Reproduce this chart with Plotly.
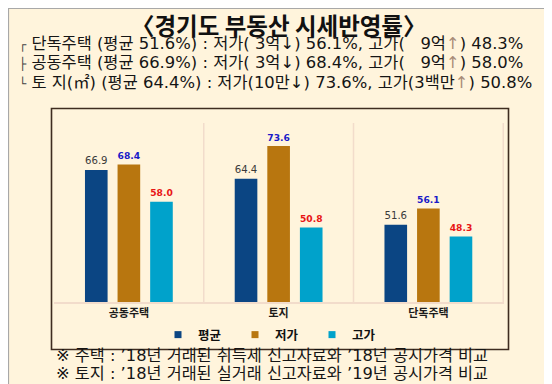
import plotly.graph_objects as go

categories = ["공동주택", "토지", "단독주택"]
series_names = ["평균", "저가", "고가"]
avg_values = [66.9, 64.4, 51.6]
low_values = [68.4, 73.6, 56.1]
high_values = [58.0, 50.8, 48.3]

NB = "\u00a0"
UP = "<span style='color:#A88C78'>↑</span>"
def corner(ch):
    return f"<span style='font-size:12px;color:#444444'>{ch}</span>"
title_text = "〈경기도 부동산 시세반영률〉"
summary_lines = [
    f"{corner('┌')} 단독주택 (평균 51.6%) : 저가({NB}3억↓) 56.1%, 고가({NB}{NB}{NB}9억{UP}) 48.3%",
    f"{corner('├')} 공동주택 (평균 66.9%) : 저가({NB}3억↓) 68.4%, 고가({NB}{NB}{NB}9억{UP}) 58.0%",
    f"{corner('└')} 토 지(㎡) (평균 64.4%) : 저가(10만↓) 73.6%, 고가(3백만{UP}) 50.8%",
]
footnotes = [
    "※ 주택 : ’18년 거래된 취득세 신고자료와 ’18년 공시가격 비교",
    "※ 토지 : ’18년 거래된 실거래 신고자료와 ’19년 공시가격 비교",
]

W, H = 552, 384
def px(x):
    return x / W
def py(y):
    return 1 - y / H

KR = "Noto Sans CJK KR, Noto Sans, sans-serif"
MIX = "DejaVu Sans, Noto Sans CJK KR, sans-serif"
BG = "#FFF4DC"

bar_colors = ["#0B4583", "#B8760F", "#00A2CB"]
label_colors = ["#3A3A3A", "#1A1AC8", "#E81515"]
label_bold = [False, True, True]
vals = [avg_values, low_values, high_values]

fig = go.Figure()
for name, v, c, lc, b in zip(series_names, vals, bar_colors, label_colors, label_bold):
    fig.add_trace(go.Bar(
        x=categories, y=v, name=name, showlegend=False,
        marker=dict(color=c, line=dict(width=0)),
        text=[f"<b>{t:.1f}</b>" if b else f"{t:.1f}" for t in v],
        textposition="outside", cliponaxis=False,
        textfont=dict(family="DejaVu Sans", size=11.5, color=lc),
    ))
# legend entries (small square keys like the reference)
for name, c in zip(series_names, bar_colors):
    fig.add_trace(go.Scatter(
        x=[categories[0]], y=[None], name=name, mode="markers",
        marker=dict(symbol="square", size=7, color=c), showlegend=True,
    ))

shapes = [
    dict(type="rect", xref="paper", yref="paper", x0=px(0.5), x1=px(549.5), y0=py(383.5), y1=py(0.5),
         fillcolor=BG, line=dict(color="#A8A8A8", width=1.2), layer="below"),
    dict(type="rect", xref="paper", yref="paper", x0=px(43.5), x1=px(500.5), y0=py(341.5), y1=py(100.5),
         fillcolor="rgba(0,0,0,0)", line=dict(color="#3E2C20", width=1.6), layer="above"),
]
for xv in [0.5, 1.5, 2.5]:
    shapes.append(dict(type="line", xref="x", yref="y domain", x0=xv, x1=xv, y0=0, y1=1,
                       line=dict(color="#F2DCCB", width=1.5), layer="below"))

annotations = [
    dict(text=f"<b>{title_text}</b>", x=px(271), y=py(17), xref="paper", yref="paper",
         showarrow=False, xanchor="center", yanchor="middle",
         font=dict(family=KR, size=23.5, color="#111111")),
]
for i, line in enumerate(summary_lines):
    annotations.append(dict(text=line, x=px(9), y=py(35 + i * 19.5), xref="paper", yref="paper",
                            showarrow=False, xanchor="left", yanchor="middle",
                            font=dict(family=MIX, size=16.4, color="#151515")))
for i, line in enumerate(footnotes):
    annotations.append(dict(text=line, x=px(46), y=py(347 + i * 18.8), xref="paper", yref="paper",
                            showarrow=False, xanchor="left", yanchor="middle",
                            font=dict(family=MIX, size=16.3, color="#151515")))

fig.update_layout(
    width=W, height=H,
    margin=dict(l=0, r=0, t=0, b=0),
    paper_bgcolor="white", plot_bgcolor="rgba(0,0,0,0)",
    barmode="group", bargap=0.347, bargroupgap=0.306,
    showlegend=True,
    legend=dict(orientation="h", x=px(150), y=py(327), xanchor="left", yanchor="middle",
                font=dict(family=KR, size=12.5, color="#111111", weight="bold"),
                bgcolor="rgba(0,0,0,0)", itemwidth=30, entrywidth=32, entrywidthmode="pixels",
                itemclick=False, itemdoubleclick=False),
    xaxis=dict(domain=[px(46), px(496)], showgrid=False, zeroline=False,
               showline=True, linecolor="#F2DCCB", linewidth=1.5,
               tickfont=dict(family=KR, size=11, color="#1A1A1A", weight="bold"),
               ticks="", ticklen=0, ticklabelstandoff=0),
    yaxis=dict(domain=[py(294), py(115)], range=[30, 80], visible=False, showgrid=False),
    shapes=shapes, annotations=annotations,
)

fig.write_html("out.html")
